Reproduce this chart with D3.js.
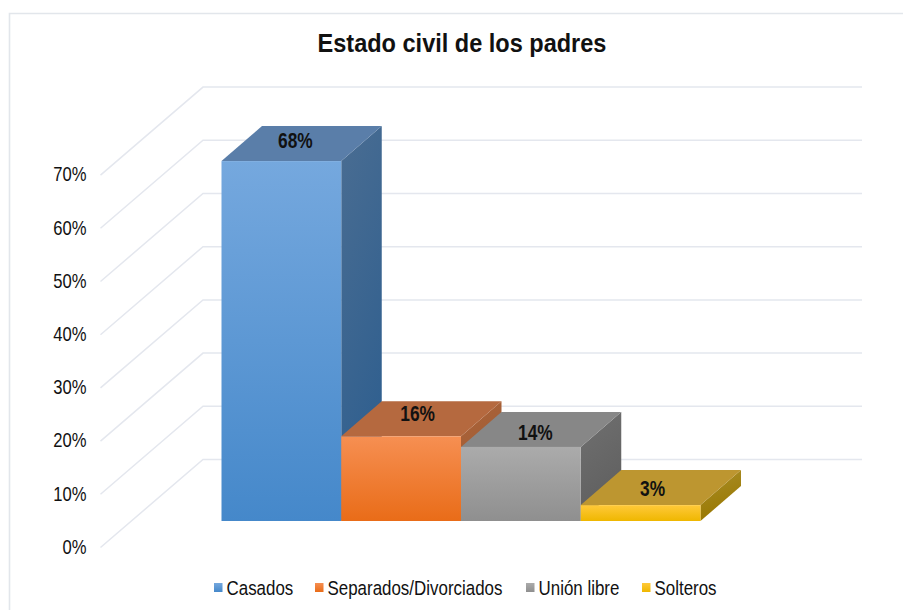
<!DOCTYPE html>
<html>
<head>
<meta charset="utf-8">
<script src="https://cdnjs.cloudflare.com/ajax/libs/d3/7.8.5/d3.min.js"></script>
<style>
  html, body { margin: 0; padding: 0; background: #fff; }
  svg { display: block; }
  text { font-family: "Liberation Sans", Arial, sans-serif; fill: #111; }
</style>
</head>
<body>
<div id="chart"></div>
<script>
// Data
const chartTitle = "Estado civil de los padres";
const categories = ["Casados", "Separados/Divorciados", "Unión libre", "Solteros"];
const percentages = [68, 16, 14, 3];
const axisTicks = [0, 10, 20, 30, 40, 50, 60, 70];

// Gradient stops and flat faces for each column
const frontLight = ["#75a8de", "#f68f52", "#ababab", "#ffc93a"];
const frontDark = ["#4588ca", "#e96c18", "#8f8f8f", "#efb700"];
const topFace = ["#5a7ea9", "#b5693f", "#878787", "#bd9630"];
const sideLight = ["#4a6d92", "#ab6339", "#707070", "#ab8f2a"];
const sideDark = ["#2f5f8f", "#9c5a33", "#5f5f5f", "#987700"];
const labelNudgeX = [1, 3.5, 1.5, -1];
const labelNudgeY = [-1, -3, 5, 3];

const width = 903, height = 610;

// Oblique projection: the floor runs back along (wallDx, wallDy)
const wallDx = 102.5, wallDy = -88;
const front0 = 547.5, frontTop = 175.1;
const y = d3.scaleLinear().domain([0, 70]).range([front0, frontTop]);
const barHeight = d3.scaleLinear().domain([0, 70]).range([0, 370.5]);

const floorY = 521;
const x = d3.scaleBand().domain(categories).range([221.5, 700.5]).padding(0);
const depthDx = 40.5, depthDy = -35;

const svg = d3.select("#chart").append("svg").attr("width", width).attr("height", height);
const defs = svg.append("defs");

function gradient(id, c0, c1, x2, y2) {
  const g = defs.append("linearGradient").attr("id", id)
    .attr("x1", 0).attr("y1", 0).attr("x2", x2).attr("y2", y2);
  g.append("stop").attr("offset", 0).attr("stop-color", c0);
  g.append("stop").attr("offset", 1).attr("stop-color", c1);
}
categories.forEach((c, i) => {
  gradient("front" + i, frontLight[i], frontDark[i], 0, 1);
  gradient("side" + i, sideLight[i], sideDark[i], 0.3, 1);
});

// Outer chart border, open to the right and bottom
svg.append("path")
  .attr("d", `M9.5,${height}V13.5H${width}`)
  .attr("fill", "none").attr("stroke", "#e2e6eb").attr("stroke-width", 1.6);

// Gridlines on the side wall and back wall
const grid = svg.append("g").attr("fill", "none").attr("stroke", "#e4e7ee").attr("stroke-width", 1.5);
grid.selectAll("path").data(axisTicks).join("path")
  .attr("d", t => `M100.5,${y(t)}L${100.5 + wallDx},${y(t) + wallDy}H862`);

// Text helper: glyphs are condensed horizontally
function addText(parent, str, px, py, size, sx, opts = {}) {
  return parent.append("text")
    .attr("transform", `translate(${px},${py}) scale(${sx},1)`)
    .attr("font-size", size)
    .attr("font-weight", opts.weight || "normal")
    .attr("text-anchor", opts.anchor || "start")
    .attr("dominant-baseline", "central")
    .text(str);
}

// Axis tick labels
const axisG = svg.append("g");
axisTicks.forEach(t => addText(axisG, t + "%", 86.5, y(t) - 0.8, 20, 0.83, { anchor: "end" }));

// Columns
const bars = svg.append("g");
categories.forEach((c, i) => {
  const v = percentages[i];
  const x0 = x(c), x1 = x0 + x.bandwidth();
  const yt = floorY - barHeight(v);
  const g = bars.append("g");
  g.append("path").attr("fill", `url(#side${i})`)
    .attr("d", `M${x1},${yt}L${x1 + depthDx},${yt + depthDy}V${floorY + depthDy}L${x1},${floorY}Z`);
  g.append("path").attr("fill", topFace[i])
    .attr("d", `M${x0},${yt}L${x0 + depthDx},${yt + depthDy}H${x1 + depthDx}L${x1},${yt}Z`);
  g.append("rect").attr("fill", `url(#front${i})`)
    .attr("x", x0).attr("y", yt).attr("width", x.bandwidth()).attr("height", floorY - yt);
});

// Value labels sit on the top face of each column
const labels = svg.append("g");
categories.forEach((c, i) => {
  const cx = x(c) + x.bandwidth() / 2 + 13 + labelNudgeX[i];
  const yt = floorY - barHeight(percentages[i]);
  addText(labels, percentages[i] + "%", cx, yt - 20 + labelNudgeY[i], 22.5, 0.77, { weight: "bold", anchor: "middle" });
});

// Title
addText(svg, chartTitle, 462, 43, 26, 0.905, { weight: "bold", anchor: "middle" });

// Legend
const legendSwatchX = [214, 315, 526, 642];
const legend = svg.append("g");
categories.forEach((c, i) => {
  legend.append("rect")
    .attr("x", legendSwatchX[i]).attr("y", 583)
    .attr("width", 8.5).attr("height", 9)
    .attr("fill", `url(#front${i})`);
  addText(legend, c, legendSwatchX[i] + 12.5, 588, 19.5, 0.868);
});
</script>
</body>
</html>
